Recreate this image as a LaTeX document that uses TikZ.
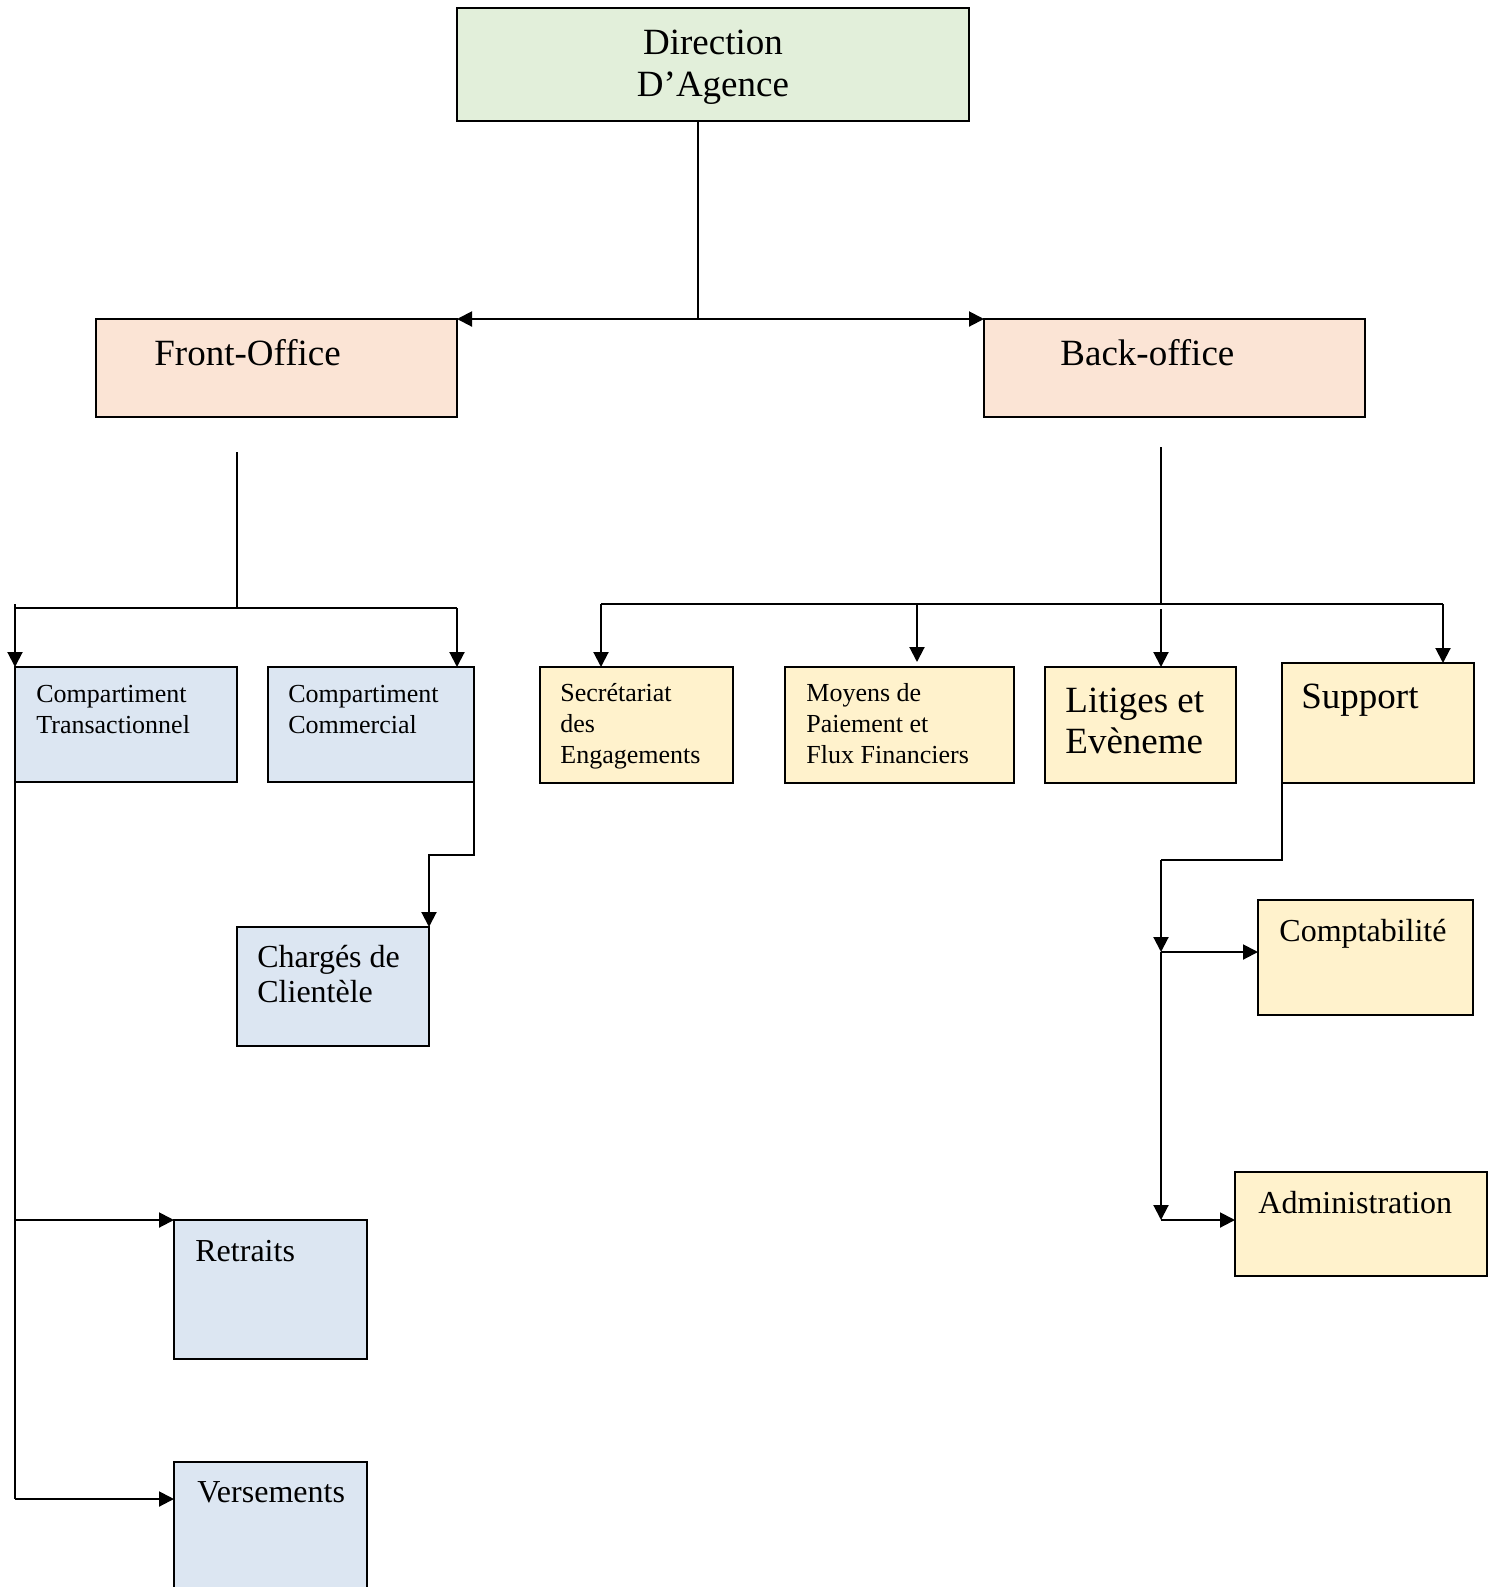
\documentclass[tikz,border=0pt]{standalone}
\usepackage{fontspec}
\setmainfont{Liberation Serif}
\usetikzlibrary{arrows.meta,positioning,fit}

\definecolor{dirgreen}{HTML}{E2EFDA}
\definecolor{officepeach}{HTML}{FBE4D5}
\definecolor{frontblue}{HTML}{DCE6F2}
\definecolor{backyellow}{HTML}{FFF2CC}

\begin{document}
\begin{tikzpicture}[
  x=0.5pt, y=-0.5pt,
  box/.style={draw, line width=1pt, inner sep=0pt, outer sep=0pt},
  dirbox/.style={box, fill=dirgreen},
  officebox/.style={box, fill=officepeach},
  frontbox/.style={box, fill=frontblue},
  backbox/.style={box, fill=backyellow},
  bigtxt/.style={font=\fontsize{18.5}{21}\selectfont, align=left, inner sep=0pt, anchor=base west},
  midtxt/.style={font=\fontsize{16}{17.5}\selectfont, align=left, inner sep=0pt, anchor=base west},
  smalltxt/.style={font=\fontsize{13}{15.4}\selectfont, align=left, inner sep=0pt, anchor=base west},
  link/.style={line width=1pt},
  arrow/.style={-{Triangle[length=7.5pt,width=7.5pt]}, line width=1pt}
]
\useasboundingbox (0,0) rectangle (1493,1587);

% boxes
\node[dirbox, fit={(457,8)(969,121)}] (dir) {};
\node[officebox, fit={(96,319)(457,417)}] (front) {};
\node[officebox, fit={(984,319)(1365,417)}] (back) {};
\node[frontbox, fit={(15,667)(237,782)}] (ctrans) {};
\node[frontbox, fit={(268,667)(474,782)}] (ccom) {};
\node[frontbox, fit={(237,927)(429,1046)}] (charg) {};
\node[frontbox, fit={(174,1220)(367,1359)}] (retr) {};
\node[frontbox, fit={(174,1462)(367,1610)}] (vers) {};
\node[backbox, fit={(540,667)(733,783)}] (secr) {};
\node[backbox, fit={(785,667)(1014,783)}] (moy) {};
\node[backbox, fit={(1045,667)(1236,783)}] (lit) {};
\node[backbox, fit={(1282,663)(1474,783)}] (supp) {};
\node[backbox, fit={(1258,900)(1473,1015)}] (compta) {};
\node[backbox, fit={(1235,1172)(1487,1276)}] (admin) {};

% texts (base = last line)
\node[bigtxt, align=center, anchor=base] (dirtxt) at (713,96) {Direction\\D’Agence};
\node[bigtxt] (fronttxt) at (154,365) {Front-Office};
\node[bigtxt] (backtxt) at (1060,365) {Back-office};
\node[smalltxt] (ctranstxt) at (36,733) {Compartiment\\Transactionnel};
\node[smalltxt] (ccomtxt) at (288,733) {Compartiment\\Commercial};
\node[smalltxt] (secrtxt) at (560,763) {Secrétariat\\des\\Engagements};
\node[smalltxt] (moytxt) at (806,763) {Moyens de\\Paiement et\\Flux Financiers};
\node[bigtxt, font=\fontsize{18.5}{20.5}\selectfont] (littxt) at (1065,753) {Litiges et\\Evèneme};
\node[bigtxt] (supptxt) at (1301,708) {Support};
\node[midtxt] (chargtxt) at (257,1002) {Chargés de\\Clientèle};
\node[midtxt] (comptatxt) at (1279,941) {Comptabilité};
\node[midtxt] (admintxt) at (1258,1213) {Administration};
\node[midtxt] (retrtxt) at (195,1261) {Retraits};
\node[midtxt] (verstxt) at (197,1502) {Versements};

% direction
\coordinate (dirjoin) at (698,319);
\draw[link] (dir.south -| dirjoin) -- (dirjoin);
\draw[arrow] (dirjoin) -- (front.north east);
\draw[arrow] (dirjoin) -- (back.north west);

% front-office
\coordinate (fotop) at (237,452);
\coordinate (fojoin) at (237,608);
\coordinate (fleft) at (15,604);
\coordinate (fright) at (457,608);
\draw[link] (fotop) -- (fojoin);
\draw[link] (fleft |- fojoin) -- (fright);
\draw[arrow] (fleft) -- (ctrans.north west);
\draw[arrow] (fright) -- (fright |- ccom.north);
\coordinate (cbend) at (429,855);
\draw[arrow] (ccom.south east) |- (cbend) -- (charg.north east);
\coordinate (vjoin) at (15,1499);
\draw[link] (ctrans.south west) -- (vjoin);
\draw[arrow] (ctrans.south west |- retr.north west) -- (retr.north west);
\draw[arrow] (vjoin) -- (vjoin -| vers.west);

% back-office
\coordinate (botop) at (1161,447);
\coordinate (bojoin) at (1161,604);
\coordinate (bleft) at (601,604);
\coordinate (bmid) at (917,604);
\coordinate (bright) at (1443,604);
\draw[link] (botop) -- (bojoin);
\draw[link] (bleft) -- (bright);
\draw[arrow] (bleft) -- (bleft |- secr.north);
\draw[arrow, shorten >=2.5pt] (bmid) -- (bmid |- moy.north);
\draw[arrow] ([yshift=-2.5pt]bojoin) -- (bojoin |- lit.north);
\draw[arrow] (bright) -- (bright |- supp.north);
\coordinate (sbend) at (1161,860);
\coordinate (cjoin) at (1161,952);
\coordinate (ajoin) at (1161,1220);
\draw[link] ([yshift=8pt]supp.south west) |- (sbend);
\draw[arrow] (sbend) -- (cjoin);
\draw[arrow] (cjoin) -- (cjoin -| compta.west);
\draw[arrow] (cjoin) -- (ajoin);
\draw[arrow] (ajoin) -- (ajoin -| admin.west);
\end{tikzpicture}
\end{document}
